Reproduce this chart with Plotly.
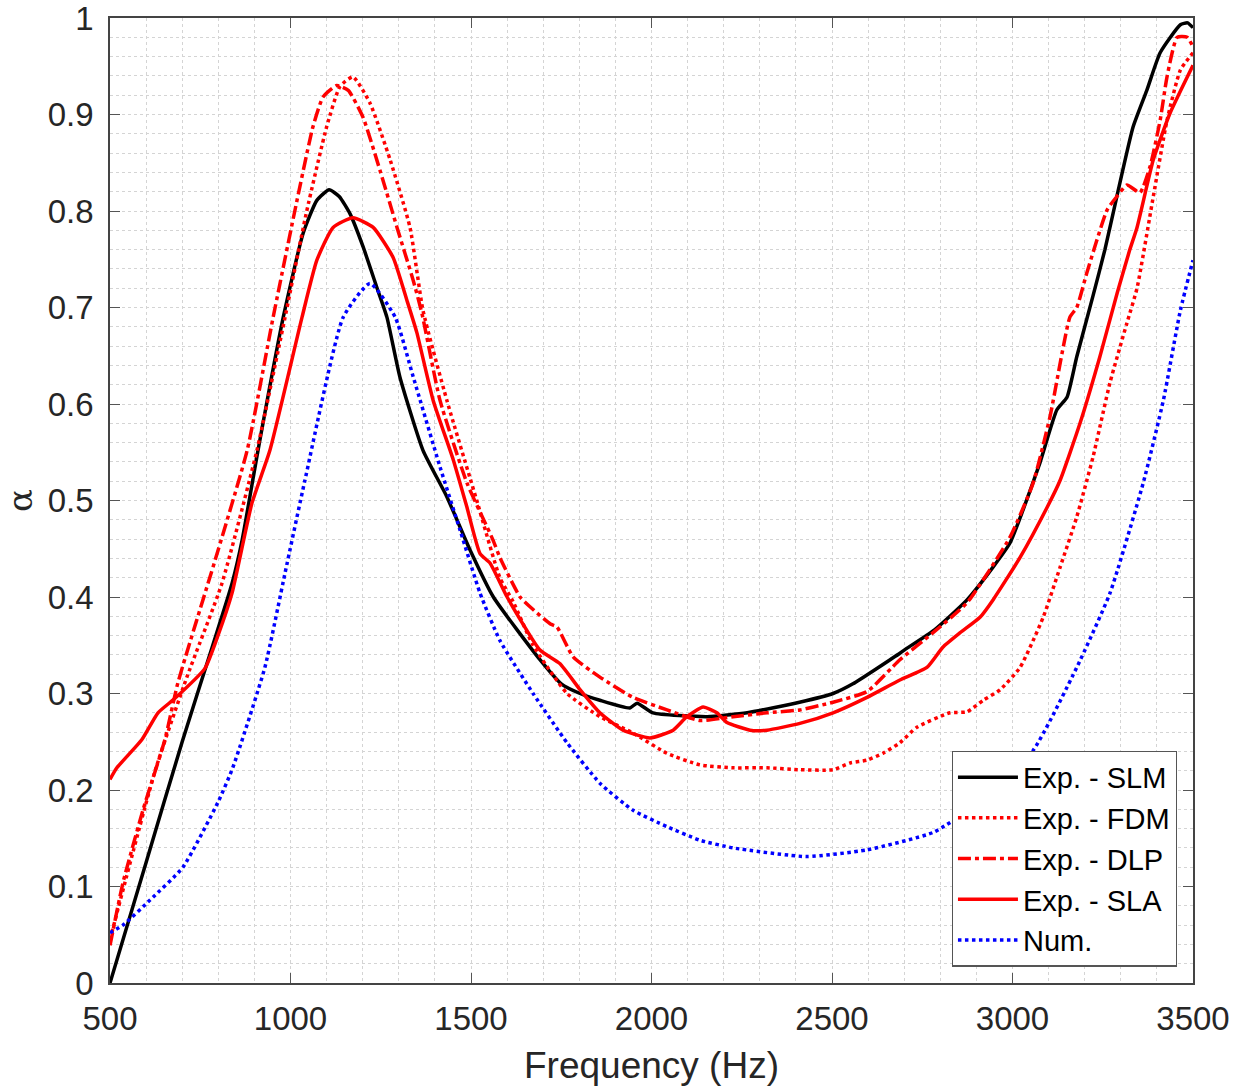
import plotly.graph_objects as go

# ---------------- data ----------------
slm_f = [500, 600, 700, 783, 838, 866, 910, 980, 1035, 1073, 1107, 1135, 1165, 1201, 1239, 1267,
         1303, 1367, 1433, 1497, 1562, 1691, 1750, 1802, 1857, 1940, 1960, 2004, 2154, 2265,
         2410, 2503, 2558, 2689, 2700, 2784, 2874, 2946, 2993, 3029, 3076, 3123, 3151, 3178, 3223,
         3256, 3289, 3334, 3372, 3409, 3465, 3485, 3500]
slm_a = [0.0, 0.125, 0.25, 0.348, 0.414, 0.459, 0.552, 0.69, 0.777, 0.811, 0.822, 0.815, 0.797, 0.763,
         0.721, 0.69, 0.628, 0.552, 0.504, 0.449, 0.40, 0.335, 0.31, 0.30, 0.293, 0.285, 0.29,
         0.28, 0.276, 0.28, 0.291, 0.30, 0.31, 0.342, 0.345, 0.366, 0.397, 0.431, 0.456, 0.49, 0.539,
         0.594, 0.607, 0.649, 0.712, 0.76, 0.815, 0.887, 0.925, 0.964, 0.993, 0.995, 0.99]

fdm_f = [500, 625, 713, 810, 907, 985, 1045, 1100, 1137, 1173, 1220, 1276, 1331, 1367, 1433, 1516,
         1580, 1617, 1672, 1766, 1857, 1949, 2043, 2134, 2226, 2320, 2411, 2503, 2550, 2597, 2641,
         2688, 2735, 2827, 2874, 2919, 2966, 3021, 3085, 3132, 3178, 3223, 3270, 3317, 3345, 3390,
         3428, 3465, 3500]
fdm_a = [0.045, 0.22, 0.317, 0.414, 0.552, 0.69, 0.80, 0.887, 0.929, 0.939, 0.912, 0.853, 0.783, 0.697,
         0.604, 0.50, 0.42, 0.395, 0.35, 0.30, 0.276, 0.259, 0.238, 0.226, 0.223, 0.223, 0.221, 0.221,
         0.228, 0.231, 0.238, 0.249, 0.265, 0.28, 0.281, 0.293, 0.304, 0.327, 0.379, 0.431, 0.483,
         0.545, 0.622, 0.684, 0.72, 0.815, 0.894, 0.946, 0.964]

dlp_f = [500, 536, 592, 652, 688, 791, 880, 952, 1018, 1062, 1090, 1128, 1160, 1201, 1248, 1295,
         1340, 1364, 1414, 1489, 1561, 1580, 1636, 1672, 1720, 1738, 1783, 1857, 1949, 2043, 2134,
         2226, 2320, 2411, 2503, 2597, 2688, 2780, 2874, 2993, 3057, 3104, 3159, 3178, 3206, 3262,
         3289, 3317, 3353, 3381, 3409, 3428, 3456, 3484, 3500]
dlp_a = [0.039, 0.104, 0.18, 0.252, 0.311, 0.438, 0.552, 0.69, 0.811, 0.887, 0.918, 0.93, 0.925, 0.897,
         0.842, 0.783, 0.728, 0.694, 0.604, 0.518, 0.459, 0.441, 0.40, 0.387, 0.372, 0.369, 0.338,
         0.317, 0.296, 0.283, 0.272, 0.276, 0.28, 0.283, 0.291, 0.302, 0.335, 0.363, 0.394, 0.462,
         0.518, 0.587, 0.69, 0.70, 0.736, 0.801, 0.815, 0.827, 0.819, 0.846, 0.894, 0.939, 0.98, 0.98,
         0.97]

sla_f = [500, 519, 588, 633, 680, 763, 799, 838, 893, 943, 1032, 1073, 1118, 1173, 1229, 1284, 1322,
         1350, 1395, 1451, 1488, 1525, 1553, 1600, 1691, 1746, 1802, 1857, 1921, 1996, 2060, 2098,
         2143, 2181, 2209, 2273, 2320, 2411, 2503, 2597, 2688, 2763, 2807, 2855, 2910, 2946, 3021,
         3096, 3132, 3187, 3242, 3290, 3325, 3345, 3390, 3436, 3500]
sla_a = [0.211, 0.223, 0.252, 0.28, 0.295, 0.326, 0.36, 0.404, 0.497, 0.552, 0.69, 0.749, 0.783, 0.793,
         0.783, 0.752, 0.708, 0.674, 0.604, 0.542, 0.494, 0.445, 0.435, 0.40, 0.345, 0.331, 0.304,
         0.28, 0.262, 0.254, 0.262, 0.276, 0.286, 0.28, 0.27, 0.262, 0.262, 0.269, 0.28, 0.296,
         0.314, 0.327, 0.348, 0.363, 0.379, 0.397, 0.441, 0.493, 0.521, 0.58, 0.649, 0.715, 0.76,
         0.783, 0.853, 0.901, 0.951]

num_f = [500, 536, 611, 702, 800, 840, 929, 985, 1040, 1146, 1220, 1290, 1340, 1414, 1470, 1525, 1580,
         1672, 1766, 1857, 1949, 2043, 2134, 2226, 2430, 2597, 2780, 2900, 3057, 3178, 3270, 3362,
         3418, 3465, 3500]
num_a = [0.052, 0.06, 0.086, 0.12, 0.188, 0.223, 0.327, 0.425, 0.521, 0.69, 0.725, 0.69, 0.628, 0.535,
         0.469, 0.404, 0.355, 0.30, 0.249, 0.207, 0.179, 0.162, 0.148, 0.14, 0.131, 0.138, 0.156,
         0.185, 0.241, 0.327, 0.404, 0.518, 0.604, 0.697, 0.749]

x_ticks = [500, 1000, 1500, 2000, 2500, 3000, 3500]
y_ticks = [0, 0.1, 0.2, 0.3, 0.4, 0.5, 0.6, 0.7, 0.8, 0.9, 1]
y_tick_text = ["0", "0.1", "0.2", "0.3", "0.4", "0.5", "0.6", "0.7", "0.8", "0.9", "1"]

series = [
    ("Exp. - SLM", slm_f, slm_a, "black", "solid"),
    ("Exp. - FDM", fdm_f, fdm_a, "#ff0000", "dot"),
    ("Exp. - DLP", dlp_f, dlp_a, "#ff0000", "13px,4px,4px,4px"),
    ("Exp. - SLA", sla_f, sla_a, "#ff0000", "solid"),
    ("Num.", num_f, num_a, "#0000ff", "dot"),
]

fig = go.Figure()
for name, fx, fy, col, dash in series:
    fig.add_trace(go.Scatter(
        x=fx, y=fy, name=name, mode="lines",
        line=dict(color=col, width=3.5, dash=dash, shape="spline", smoothing=0.5),
    ))

FONT = "Liberation Sans, Arial, sans-serif"
grid_col = "#d4d4d4"

fig.update_layout(
    width=1236, height=1088,
    margin=dict(l=110, r=43, t=18, b=105),
    paper_bgcolor="white", plot_bgcolor="white",
    font=dict(family=FONT, color="#262626", size=33),
    legend=dict(
        x=0.985, y=0.017, xanchor="right", yanchor="bottom",
        bgcolor="white", bordercolor="#555555", borderwidth=1.2,
        font=dict(size=29, color="black"), itemwidth=60,
        tracegroupgap=0,
    ),
    showlegend=True,
)

fig.update_xaxes(
    range=[500, 3500], tickvals=x_ticks, ticktext=[str(v) for v in x_ticks],
    automargin=False, ticklabeloverflow="allow",
    showline=True, linecolor="#444444", linewidth=1.5, mirror="all",
    ticks="inside", ticklen=10, tickcolor="#555555", tickwidth=1.2,
    ticklabelstandoff=6,
    showgrid=True, gridcolor=grid_col, griddash="dot", gridwidth=1,
    minor=dict(dtick=100, showgrid=True, gridcolor=grid_col, griddash="dot", gridwidth=1, ticks=""),
    zeroline=False, tickfont=dict(size=33, color="#262626"),
    title=dict(text="Frequency (Hz)", font=dict(size=37, color="#262626"), standoff=16),
)
fig.update_yaxes(
    range=[0, 1], tickvals=y_ticks, ticktext=y_tick_text,
    automargin=False, ticklabeloverflow="allow",
    showline=True, linecolor="#444444", linewidth=1.5, mirror="all",
    ticks="inside", ticklen=10, tickcolor="#555555", tickwidth=1.2,
    ticklabelstandoff=8,
    showgrid=True, gridcolor=grid_col, griddash="dot", gridwidth=1,
    minor=dict(dtick=0.02, showgrid=True, gridcolor=grid_col, griddash="dot", gridwidth=1, ticks=""),
    zeroline=False, tickfont=dict(size=33, color="#262626"),
    title=dict(text="α", font=dict(size=34, color="#262626", family="DejaVu Serif, serif"), standoff=6),
)

fig.write_html("out.html", config={"displayModeBar": False},
               post_script="document.body.style.margin='0';")
